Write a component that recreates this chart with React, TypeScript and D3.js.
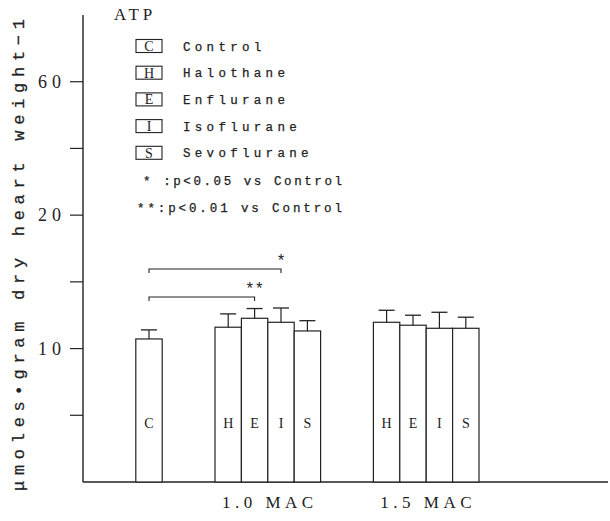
import React from 'react';
import * as d3 from 'd3';

const agents = ['H', 'E', 'I', 'S'];
const agentNames = ['Control', 'Halothane', 'Enflurane', 'Isoflurane', 'Sevoflurane'];
const legendKeys = ['C', 'H', 'E', 'I', 'S'];
const macGroups = ['1.0 MAC', '1.5 MAC'];

const controlMean = 10.72;
const controlErr = 0.68;
const mac10Means = [11.6, 12.27, 11.97, 11.32];
const mac10Errs = [1.0, 0.73, 1.07, 0.77];
const mac15Means = [11.97, 11.75, 11.52, 11.52];
const mac15Errs = [0.9, 0.75, 1.2, 0.83];

const yTickValues = [5, 10, 15, 20, 25, 30];
const yTickLabels = ['', '10', '', '20', '', '60'];

const sigNotes = ['* :p<0.05 vs Control', '**:p<0.01 vs Control'];

const W = 610;
const H = 521;

export default function App() {
  const x0 = 83;
  const baseY = 482;
  const slotW = 26.4;
  const y = d3.scaleLinear().domain([0, 35]).range([baseY, 15]);
  const slot = d3.scaleLinear().domain([0, 20]).range([x0, x0 + 20 * slotW]);
  const groupStart = [5, 11];
  const ink = '#222';

  type Bar = { key: string; left: number; mean: number; err: number };
  const bars: Bar[] = [{ key: 'C', left: slot(2), mean: controlMean, err: controlErr }];
  [mac10Means, mac15Means].forEach((means, gi) => {
    const errs = gi === 0 ? mac10Errs : mac15Errs;
    agents.forEach((a, i) => {
      bars.push({ key: a, left: slot(groupStart[gi] + i), mean: means[i], err: errs[i] });
    });
  });

  const centerOf = (b: Bar) => b.left + slotW / 2;
  const cCenter = centerOf(bars[0]);
  // significance brackets: C vs I (1.0 MAC) *, C vs E (1.0 MAC) **
  const brackets = [
    { to: centerOf(bars[3]), yy: 269, mark: '*' },
    { to: centerOf(bars[2]), yy: 297, mark: '**' },
  ];

  const serif = '"Liberation Serif", "DejaVu Serif", serif';
  const mono = '"Liberation Mono", "DejaVu Sans Mono", monospace';
  const heavy = { stroke: ink, strokeWidth: 0.25 };

  return (
    <svg width={W} height={H} style={{ position: 'absolute', left: 0, top: 0, background: '#fff' }}>
      <rect width={W} height={H} fill="#fff" />
      {/* axes */}
      <line x1={x0} x2={x0} y1={15} y2={baseY} stroke={ink} strokeWidth={1.4} />
      <line x1={x0} x2={608} y1={baseY} y2={baseY} stroke={ink} strokeWidth={1.4} />
      {yTickValues.map((v, i) => (
        <g key={v}>
          <line x1={x0 - 13} x2={x0} y1={y(v)} y2={y(v)} stroke={ink} strokeWidth={1.2} />
          {yTickLabels[i] && (
            <text x={66} y={y(v)} dy="0.35em" textAnchor="end" fontFamily={serif}
              fontSize={18} letterSpacing={5} fill={ink}>{yTickLabels[i]}</text>
          )}
        </g>
      ))}
      <text transform="translate(24,255) rotate(-90)" textAnchor="middle" fontFamily={mono}
        fontSize={17} fill={ink} {...heavy} textLength={472} lengthAdjust="spacing">
        μmoles•gram dry heart weight−1
      </text>
      <text x={114} y={20} fontFamily={serif} fontSize={17} letterSpacing={4} fill={ink}>ATP</text>

      {/* legend */}
      {legendKeys.map((k, i) => {
        const cy = 46 + i * 26.7;
        return (
          <g key={k}>
            <rect x={136} y={cy - 6.5} width={26} height={13} fill="none" stroke={ink} strokeWidth={1.1} />
            <text x={149} y={cy} dy="0.36em" textAnchor="middle" fontFamily={serif} fontSize={14} fill={ink}>{k}</text>
            <text x={183} y={cy} dy="0.36em" fontFamily={mono} fontSize={12.5} letterSpacing={4.3}
              fill={ink} {...heavy}>{agentNames[i]}</text>
          </g>
        );
      })}
      {sigNotes.map((s, i) => (
        <text key={s} x={i === 0 ? 143 : 137} y={180 + i * 27} dy="0.36em" fontFamily={mono}
          fontSize={12.5} textLength={i === 0 ? 199 : 205} lengthAdjust="spacing" fill={ink} {...heavy}
          xmlSpace="preserve">{s}</text>
      ))}

      {/* brackets */}
      {brackets.map((b) => (
        <g key={b.mark}>
          <path d={`M${cCenter},${b.yy + 4}V${b.yy}H${b.to}V${b.yy + 4}`} fill="none" stroke={ink} strokeWidth={1.1} />
          <text x={b.to} y={b.yy - 3} textAnchor="middle" fontFamily={mono} fontSize={16}
            fill={ink}>{b.mark}</text>
        </g>
      ))}

      {/* bars */}
      {bars.map((b, i) => {
        const cx = centerOf(b);
        return (
          <g key={i}>
            <rect x={b.left} y={y(b.mean)} width={slotW} height={baseY - y(b.mean)} fill="#fff"
              stroke={ink} strokeWidth={1.2} />
            <line x1={cx} x2={cx} y1={y(b.mean)} y2={y(b.mean + b.err)} stroke={ink} strokeWidth={1.2} />
            <line x1={cx - 8} x2={cx + 8} y1={y(b.mean + b.err)} y2={y(b.mean + b.err)} stroke={ink} strokeWidth={1.3} />
            <text x={cx} y={423} dy="0.36em" textAnchor="middle" fontFamily={serif} fontSize={14} fill={ink}>{b.key}</text>
          </g>
        );
      })}

      {/* group labels */}
      {macGroups.map((g, gi) => (
        <text key={g} x={slot(groupStart[gi] + 2) + 2} y={502} dy="0.36em" textAnchor="middle"
          fontFamily={serif} fontSize={17} letterSpacing={4.5} fill={ink}>{g}</text>
      ))}
    </svg>
  );
}
